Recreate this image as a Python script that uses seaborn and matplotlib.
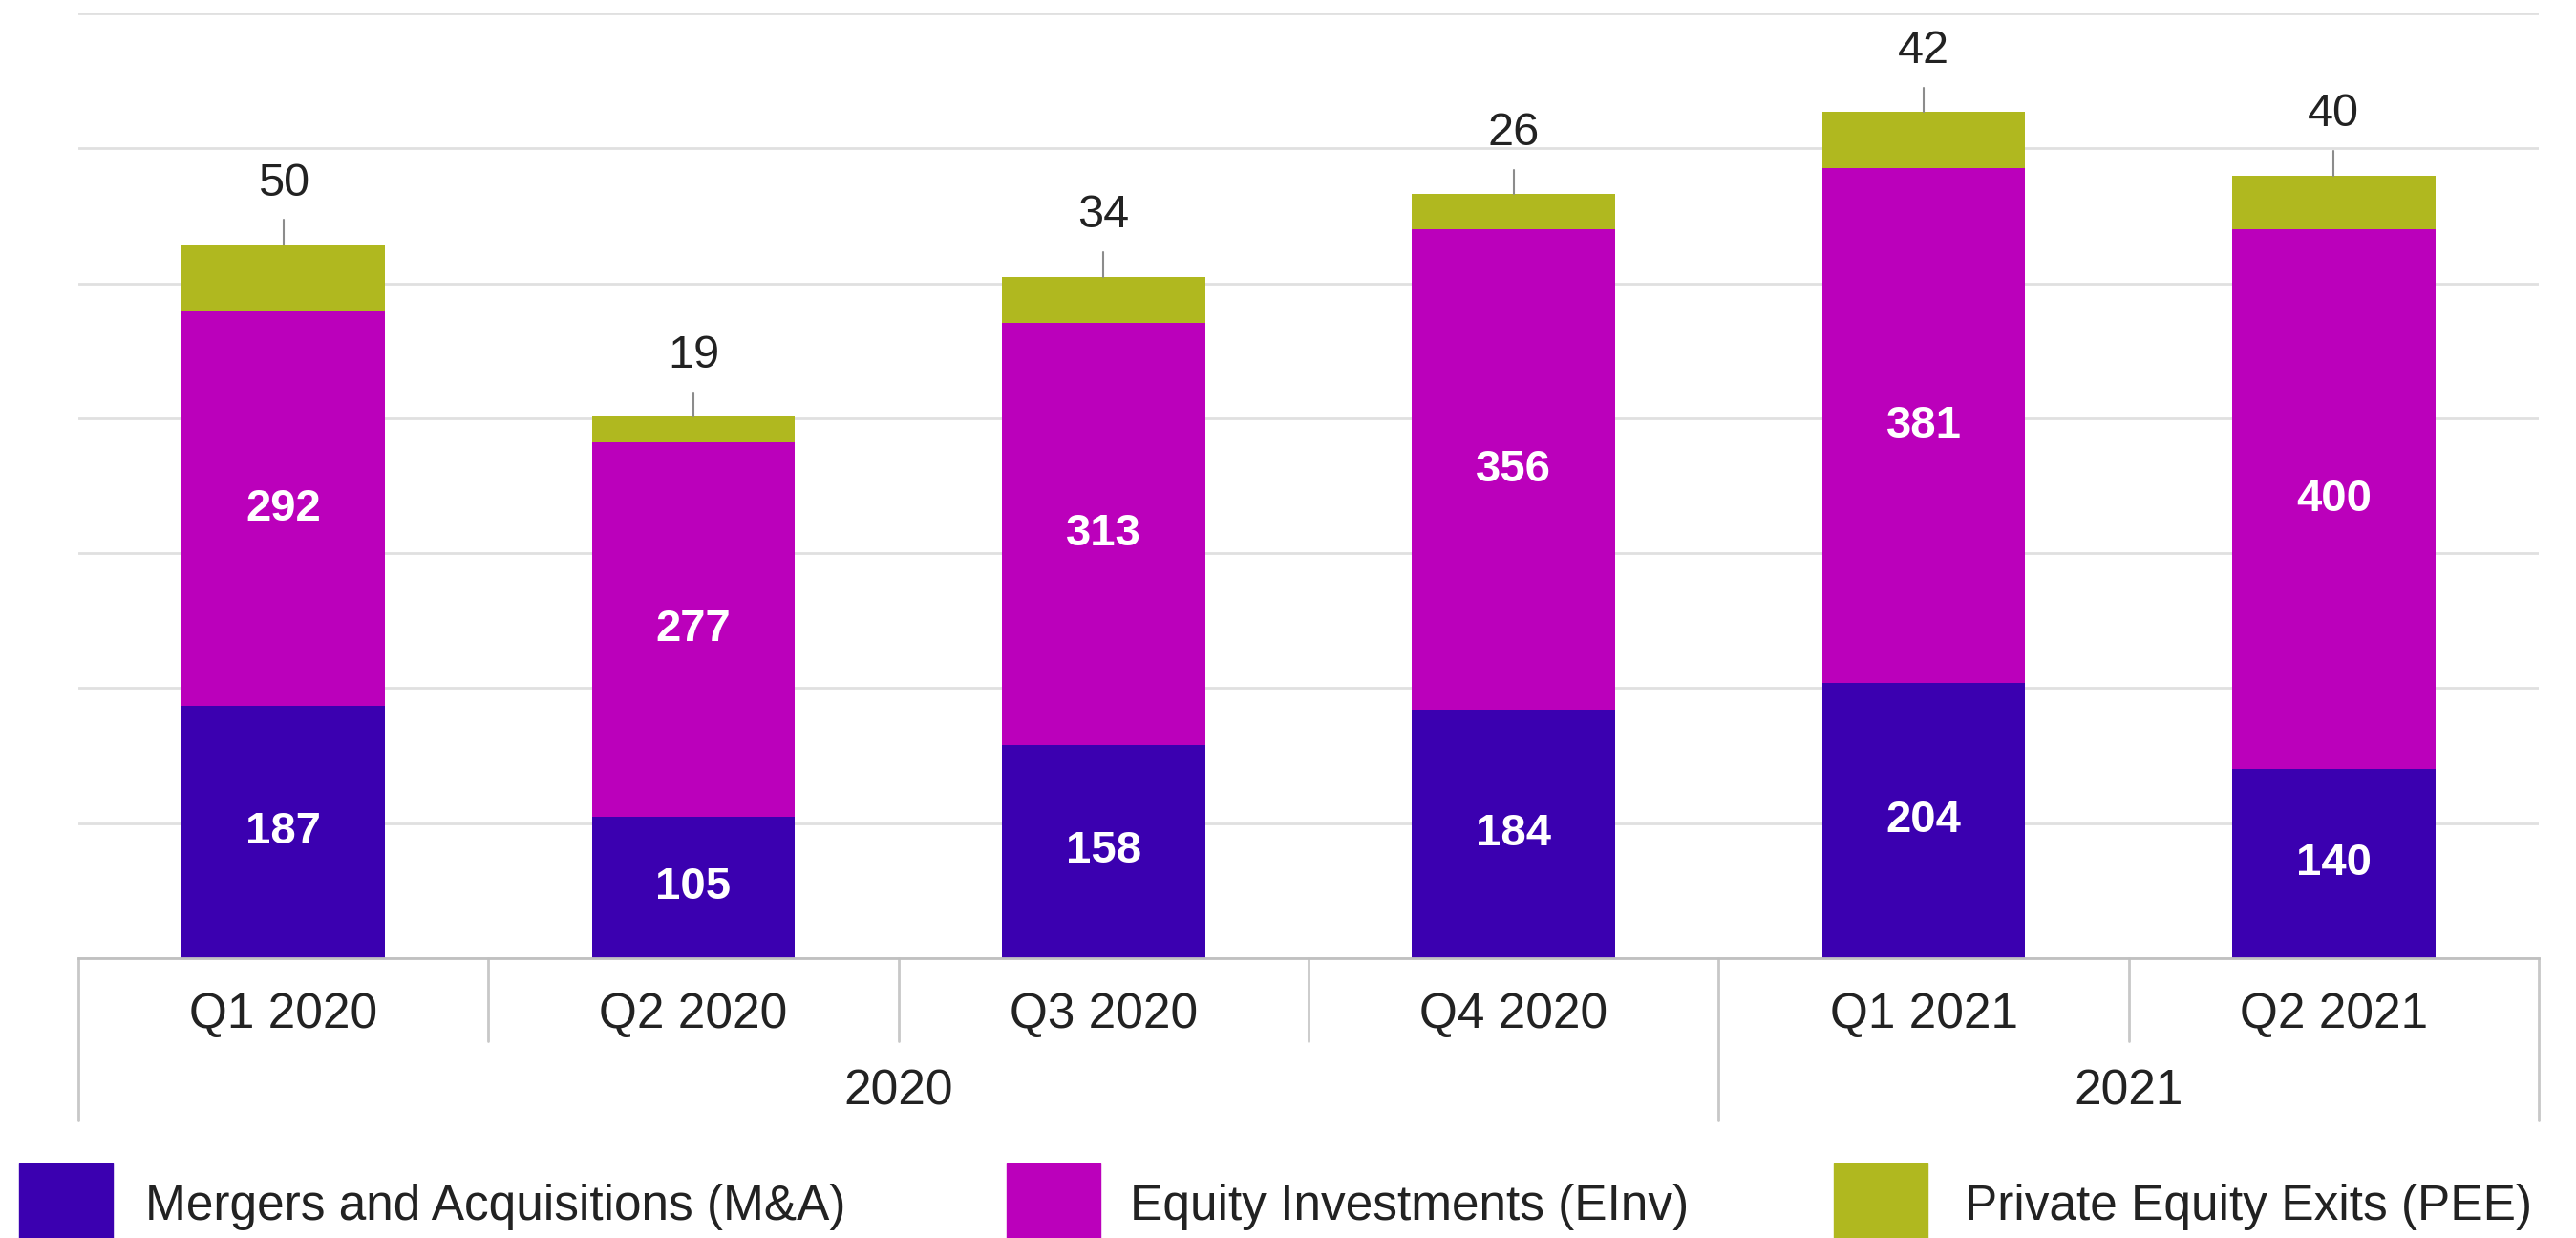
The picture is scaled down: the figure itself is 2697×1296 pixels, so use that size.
import matplotlib
matplotlib.use("Agg")
import matplotlib.pyplot as plt
import matplotlib.transforms as mtransforms
from matplotlib.patches import Rectangle
import seaborn as sns
import pandas as pd

# ---- data ----
quarters = ["Q1 2020", "Q2 2020", "Q3 2020", "Q4 2020", "Q1 2021", "Q2 2021"]
years = ["2020", "2021"]
year_of_quarter = ["2020", "2020", "2020", "2020", "2021", "2021"]
ma = [187, 105, 158, 184, 204, 140]
einv = [292, 277, 313, 356, 381, 400]
pee = [50, 19, 34, 26, 42, 40]
series_names = ["Mergers and Acquisitions (M&A)", "Equity Investments (EInv)",
                "Private Equity Exits (PEE)"]
colors = ["#3b00b0", "#bb00bb", "#b0b81f"]

sns.set_theme(style="white")
plt.rcParams['font.family'] = ['Liberation Sans', 'DejaVu Sans']

df = pd.DataFrame({"quarter": quarters, "ma": ma, "einv": einv, "pee": pee})
df["c1"] = df["ma"]
df["c2"] = df["ma"] + df["einv"]
df["c3"] = df["c2"] + df["pee"]

W, H = 2697, 1296
fig = plt.figure(figsize=(W / 100, H / 100), dpi=100)
ax = fig.add_axes([82 / W, 1 - 1003 / H, (2658 - 82) / W, (1003 - 14) / H])

for col, color in zip(["c3", "c2", "c1"], colors[::-1]):
    sns.barplot(data=df, x="quarter", y=col, color=color, width=0.495, ax=ax,
                saturation=1, linewidth=0, edgecolor="none")

ax.set_xlim(-0.5, len(quarters) - 0.5)
ax.set_ylim(0, 700)
ax.set_yticks(range(0, 701, 100))
ax.yaxis.grid(True, color="#e0e0e0", lw=2)
ax.set_axisbelow(True)
ax.set_yticklabels([])
ax.set_xticklabels([])
ax.set_xlabel("")
ax.set_ylabel("")
ax.tick_params(left=False, bottom=False)
for s in ["left", "right", "top"]:
    ax.spines[s].set_visible(False)
ax.spines["bottom"].set_color("#c0c0c0")
ax.spines["bottom"].set_linewidth(2)
ax.spines["bottom"].set_zorder(5)

txt = "#222222"
# value labels
for i in range(len(quarters)):
    ax.text(i, ma[i] / 2, str(ma[i]), color="white", fontsize=34, fontweight="bold",
            ha="center", va="center")
    ax.text(i, ma[i] + einv[i] / 2, str(einv[i]), color="white", fontsize=34,
            fontweight="bold", ha="center", va="center")
    top = df["c3"][i]
    ax.plot([i, i], [top, top + 18], color="#8c8c8c", lw=1.5)
    ax.text(i, top + 45, str(pee[i]), color=txt, fontsize=35, ha="center", va="center")

# category axis: quarter separators, labels, year groups
trans = mtransforms.blended_transform_factory(ax.transData, ax.transAxes)
n = len(quarters)
for b in range(n + 1):
    x = b - 0.5
    is_year_edge = (b == 0 or b == n or year_of_quarter[b - 1] != year_of_quarter[b])
    y_end = -0.172 if is_year_edge else -0.088
    ax.plot([x, x], [0, y_end], transform=trans, color="#c8c8c8", lw=2, clip_on=False)
for i, q in enumerate(quarters):
    ax.text(i, -0.060, q, transform=trans, ha="center", va="center", fontsize=37, color=txt)
for y in years:
    idx = [i for i, yy in enumerate(year_of_quarter) if yy == y]
    ax.text((idx[0] + idx[-1]) / 2, -0.142, y, transform=trans, ha="center",
            va="center", fontsize=37, color=txt)

# legend
sq_x = [20, 1054, 1920]
tx_x = [152, 1183, 2057]
for name, c, sx, tx in zip(series_names, colors, sq_x, tx_x):
    fig.add_artist(Rectangle((sx / W, -0.05), 98 / W, (1296 - 1218) / H + 0.05,
                             transform=fig.transFigure, color=c, clip_on=False))
    fig.text(tx / W, 1 - 1263 / H, name, ha="left", va="center", fontsize=37, color=txt)

fig.savefig("out.png", dpi=100)
